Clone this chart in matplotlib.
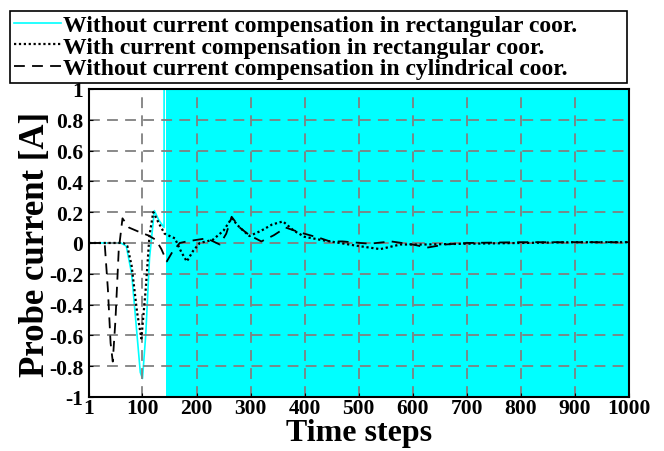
import numpy as np
import matplotlib
matplotlib.use("Agg")
import matplotlib.pyplot as plt

plt.rcParams['font.family'] = ['Liberation Serif', 'DejaVu Serif']
plt.rcParams['font.weight'] = 'bold'

# without current compensation, rectangular coor. (diverges after ~step 145)
cyan_steps = [1, 60, 70, 80, 90, 96, 100, 106, 113, 122, 130, 140]
cyan_vals = [0, 0, -0.02, -0.2, -0.6, -0.84, -0.88, -0.6, -0.1, 0.21, 0.15, 0.1]
div_start = 145
div_end = 1000
div_amp = [1e3, -1e3]   # oscillation far outside the axis range

# with current compensation, rectangular coor.
dot_steps = [1, 65, 72, 80, 90, 98, 106, 113, 120, 130, 141, 160, 172, 182, 194,
             206, 230, 250, 265, 280, 298, 320, 340, 360, 380, 400, 430, 465,
             500, 540, 577, 620, 700, 800, 900, 1000]
dot_vals = [0, 0, -0.02, -0.15, -0.45, -0.62, -0.3, 0.05, 0.2, 0.13, 0.06, 0.03,
            -0.06, -0.12, -0.05, 0.0, 0.02, 0.08, 0.16, 0.1, 0.045, 0.08, 0.12,
            0.14, 0.08, 0.04, 0.02, 0.0, -0.02, -0.04, -0.01, -0.01, -0.005,
            0.0, 0.005, 0.005]

# without current compensation, cylindrical coor.
dash_steps = [1, 30, 36, 41, 45, 50, 56, 63, 75, 95, 110, 125, 135, 145, 155,
              169, 182, 200, 219, 243, 255, 265, 280, 298, 320, 343, 365, 390,
              410, 430, 447, 470, 520, 560, 600, 627, 660, 700, 800, 900, 1000]
dash_vals = [0, 0, -0.3, -0.65, -0.77, -0.5, -0.05, 0.16, 0.1, 0.07, 0.05, 0.02,
             -0.04, -0.12, -0.06, 0.0, 0.01, 0.02, 0.03, -0.01, 0.06, 0.17, 0.1,
             0.05, 0.01, 0.05, 0.1, 0.07, 0.05, 0.03, 0.01, 0.01, -0.005, 0.01,
             -0.01, -0.03, -0.01, 0.0, 0.005, 0.005, 0.005]

xticks = [1, 100, 200, 300, 400, 500, 600, 700, 800, 900, 1000]
yticks = [1, 0.8, 0.6, 0.4, 0.2, 0, -0.2, -0.4, -0.6, -0.8, -1]
ytick_labels = ['1', '0.8', '0.6', '0.4', '0.2', '0', '-0.2', '-0.4', '-0.6', '-0.8', '-1']

fig = plt.figure(figsize=(6.64, 4.52), dpi=100)
ax = fig.add_axes([0.134, 0.1195, 0.813, 0.6815])

div_x = np.arange(div_start, div_end + 1)
div_y = np.tile(div_amp, len(div_x) // 2 + 1)[:len(div_x)]
cx = cyan_steps + list(div_x)
cy = cyan_vals + list(div_y)
ax.plot(cx, cy, color='#00ffff', lw=1.2, zorder=1,
        label='Without current compensation in rectangular coor.')
ax.plot(dot_steps, dot_vals, color='black', lw=1.6, ls=(0, (1, 1.2)), zorder=4,
        label='With current compensation in rectangular coor.')
ax.plot(dash_steps, dash_vals, color='black', lw=1.3, ls=(0, (6, 4)), zorder=4,
        label='Without current compensation in cylindrical coor.')

ax.set_xlim(1, 1000)
ax.set_ylim(-1, 1)
ax.set_xticks(xticks)
ax.set_xticklabels([str(t) for t in xticks])
ax.set_yticks(yticks)
ax.set_yticklabels(ytick_labels)
ax.grid(True, color='#808080', ls=(0, (6, 4)), lw=1.3, zorder=3)
ax.set_axisbelow(False)
ax.tick_params(direction='in', length=3, labelsize=15.5)
ax.tick_params(axis='x', pad=1)
ax.tick_params(axis='y', pad=4)
for s in ax.spines.values():
    s.set_linewidth(1.5)
    s.set_zorder(5)

ax.set_xlabel('Time steps', fontsize=23, fontweight='bold', labelpad=0)
ax.set_ylabel('Probe current [A]', fontsize=25, fontweight='bold', labelpad=-2)

leg = fig.legend(loc='lower left', bbox_to_anchor=(0.015, 0.815, 0.93, 0.17),
                 mode='expand', fontsize=17,
                 handlelength=2.0, handletextpad=0.1, labelspacing=0.0,
                 borderpad=0.15, borderaxespad=0, fancybox=False,
                 edgecolor='black', framealpha=1)
leg.get_frame().set_linewidth(1.2)

fig.savefig('out.png', dpi=100)
